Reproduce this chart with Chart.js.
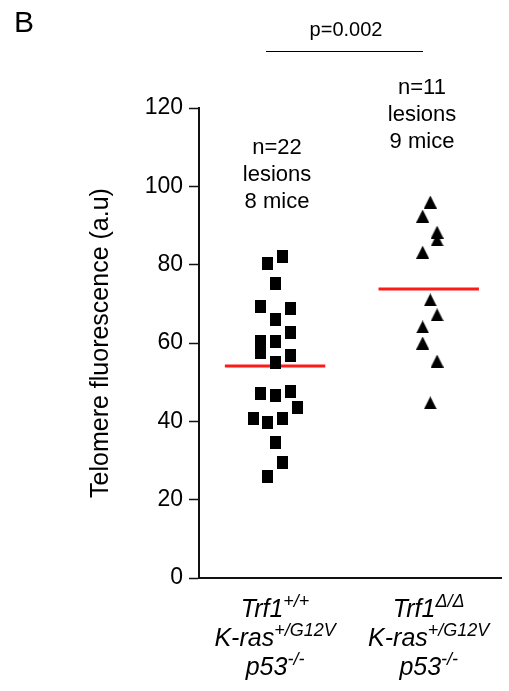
<!DOCTYPE html>
<html>
<head>
<meta charset="utf-8">
<script src="https://cdn.jsdelivr.net/npm/chart.js@4"></script>
<style>
  body { margin: 0; background: #fff; }
  #wrap { width: 509px; height: 691px; }
</style>
</head>
<body>
<div id="wrap"><canvas id="telomere-chart" width="509" height="691"></canvas></div>
<script>
/* data */

const panelLetter = "B";
const pValue = "p=0.002";

// each group label: [main text, superscript] per line
const categories = [
    [["Trf1", "+/+"], ["K-ras", "+/G12V"], ["p53", "-/-"]],
    [["Trf1", "Δ/Δ"], ["K-ras", "+/G12V"], ["p53", "-/-"]]
];
const groupNotes = [
    ["n=22", "lesions", "8 mice"],
    ["n=11", "lesions", "9 mice"]
];

const wildTypeValues = [82.2, 80.2, 75.1, 69.4, 68.7, 65.9, 62.8, 60.4, 57.6, 60.5, 56.9,
                        55.1, 47.2, 46.7, 47.5, 43.6, 40.8, 39.8, 40.6, 34.7, 29.6, 25.8];
const wildTypeJitter = [0.1, -0.1, 0, -0.19, 0.2, 0, 0.2, -0.19, -0.19, 0, 0.2,
                        0, -0.19, 0, 0.2, 0.29, -0.29, -0.1, 0.1, 0, 0.1, -0.1];

const deletedValues = [96.0, 92.4, 88.3, 86.3, 83.2, 71.0, 67.2, 64.1, 60.0, 55.4, 44.7];
const deletedJitter = [0.02, -0.08, 0.11, 0.11, -0.08, 0.02, 0.11, -0.08, -0.08, 0.11, 0.02];

const groupMeans = [54.1, 73.8];
const groupCenters = [1, 3.02];

const yTicks = [0, 20, 40, 60, 80, 100, 120];
const yTitle = "Telomere fluorescence (a.u)";


const FONT = "'Liberation Sans', Arial, Helvetica, sans-serif";

function points(values, jitter, center) {
    return values.map((v, i) => ({ x: center + jitter[i], y: v }));
}

function meanLine(i) {
    return [
        { x: groupCenters[i] - 0.66, y: groupMeans[i] },
        { x: groupCenters[i] + 0.66, y: groupMeans[i] }
    ];
}

/* marker images: slightly tall squares and triangles like the figure */

function makeSquare() {
    const c = document.createElement("canvas");
    c.width = 11;
    c.height = 13;
    const g = c.getContext("2d");
    g.fillStyle = "#000";
    g.fillRect(0, 0, 11, 13);
    return c;
}

function makeTriangle() {
    const c = document.createElement("canvas");
    c.width = 13;
    c.height = 13;
    const g = c.getContext("2d");
    g.fillStyle = "#000";
    g.beginPath();
    g.moveTo(6.5, 0);
    g.lineTo(13, 13);
    g.lineTo(0, 13);
    g.closePath();
    g.fill();
    return c;
}

/* text around the plot: letter, p value, n labels, group labels */

function drawSupText(ctx, parts, cx, y, size) {
    const mainFont = "italic " + size + "px " + FONT;
    const supFont = "italic " + Math.round(size * 0.72) + "px " + FONT;
    ctx.font = mainFont;
    const w1 = ctx.measureText(parts[0]).width;
    ctx.font = supFont;
    const w2 = ctx.measureText(parts[1]).width;
    let x = cx - (w1 + w2) / 2;
    ctx.textAlign = "left";
    ctx.textBaseline = "alphabetic";
    ctx.font = mainFont;
    ctx.fillText(parts[0], x, y);
    ctx.font = supFont;
    ctx.fillText(parts[1], x + w1, y - size * 0.4);
}

const textPlugin = {
    id: "figureText",
    afterDraw(chart) {
        const ctx = chart.ctx;
        const xs = chart.scales.x;
        const area = chart.chartArea;
        ctx.save();
        ctx.fillStyle = "#000";

        ctx.font = "30px " + FONT;
        ctx.textAlign = "left";
        ctx.textBaseline = "middle";
        ctx.fillText(panelLetter, 14, 24);

        ctx.font = "20px " + FONT;
        ctx.textAlign = "center";
        ctx.fillText(pValue, 346, 30);
        ctx.strokeStyle = "#000";
        ctx.lineWidth = 1;
        ctx.beginPath();
        ctx.moveTo(266, 51.5);
        ctx.lineTo(423, 51.5);
        ctx.stroke();

        ctx.font = "22px " + FONT;
        const noteTops = [148, 88];
        const noteX = [277, 422];
        groupNotes.forEach((lines, g) => {
            lines.forEach((t, k) => {
                ctx.fillText(t, noteX[g], noteTops[g] + k * 27);
            });
        });

        categories.forEach((lines, g) => {
            const cx = xs.getPixelForValue(groupCenters[g]);
            lines.forEach((parts, k) => {
                drawSupText(ctx, parts, cx, area.bottom + 39 + k * 29, 25);
            });
        });
        ctx.restore();
    }
};

const ctx = document.getElementById("telomere-chart");

new Chart(ctx, {
    type: "scatter",
    data: {
        datasets: [
            {
                data: points(wildTypeValues, wildTypeJitter, groupCenters[0]),
                pointStyle: makeSquare(),
                pointRadius: 7,
                backgroundColor: "#000"
            },
            {
                data: points(deletedValues, deletedJitter, groupCenters[1]),
                pointStyle: makeTriangle(),
                pointRadius: 7,
                backgroundColor: "#000"
            },
            {
                type: "line",
                data: meanLine(0),
                borderColor: "#ff1a1a",
                borderWidth: 3,
                pointRadius: 0
            },
            {
                type: "line",
                data: meanLine(1),
                borderColor: "#ff1a1a",
                borderWidth: 3,
                pointRadius: 0
            }
        ]
    },
    options: {
        responsive: false,
        animation: false,
        events: [],
        layout: { padding: { top: 108, right: 0, bottom: 113, left: 0 } },
        plugins: {
            legend: { display: false },
            tooltip: { enabled: false }
        },
        scales: {
            x: {
                type: "linear",
                min: 0,
                max: 3.97,
                ticks: { display: false },
                grid: { display: false },
                border: { display: true, color: "#111", width: 2 },
                afterFit: s => { s.height = 0; }
            },
            y: {
                min: 0,
                max: 120,
                afterBuildTicks: s => { s.ticks = yTicks.map(v => ({ value: v })); },
                ticks: {
                    color: "#000",
                    padding: 6,
                    font: { family: FONT, size: 23 }
                },
                grid: {
                    display: true,
                    drawOnChartArea: false,
                    drawTicks: true,
                    tickLength: 10,
                    tickWidth: 1.5,
                    tickColor: "#111"
                },
                border: { display: true, color: "#111", width: 2 },
                title: {
                    display: true,
                    text: yTitle,
                    color: "#000",
                    font: { family: FONT, size: 25 },
                    padding: { top: 86, bottom: 0 }
                },
                afterFit: s => { s.width = 199; }
            }
        }
    },
    plugins: [textPlugin]
});
</script>
</body>
</html>
